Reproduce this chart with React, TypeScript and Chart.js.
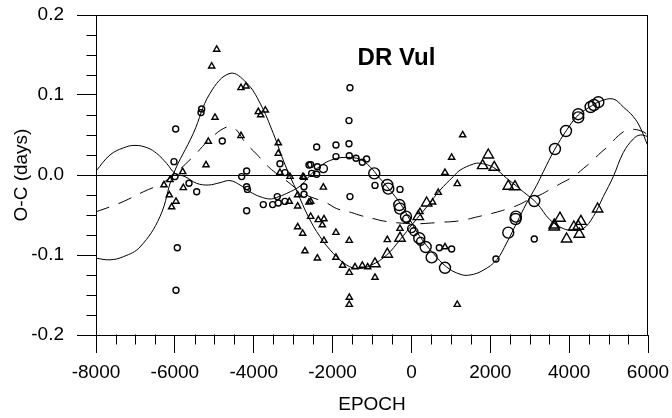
import React, { useEffect, useRef } from 'react';
import { Chart, registerables } from 'chart.js';

Chart.register(...registerables);

const X_MIN = -8000;
const X_MAX = 6000;
const Y_MIN = -0.2;
const Y_MAX = 0.2;
const X_MAJOR_STEP = 2000;
const X_MINOR_STEP = 500;
const Y_MAJOR_STEP = 0.1;
const Y_MINOR_STEP = 0.025;

const chartTitle = 'DR Vul';
const xAxisTitle = 'EPOCH';
const yAxisTitle = 'O-C (days)';

// Solid fit through the triangles
const fitTriEpoch = [-8000, -7645, -7300, -6884, -6377, -6047, -5532, -5109, -4601, -4179, -3841, -3503, -3207, -2900, -2616, -2320, -1982, -1643, -1348, -1009, -628, -290, 48, 386, 724, 1062, 1232, 1570, 1739, 2076, 2414, 2668, 2837, 3175, 3513, 3851, 4104, 4358, 4612, 4866, 5119, 5373, 5627, 5800, 6000];
const fitTriOC = [-0.104, -0.106, -0.102, -0.09, -0.052, 0.0, 0.052, 0.102, 0.127, 0.115, 0.09, 0.052, 0.013, -0.021, -0.052, -0.077, -0.098, -0.1125, -0.117, -0.1125, -0.1, -0.081, -0.06, -0.04, -0.019, -0.002, 0.006, 0.0137, 0.0146, 0.0096, -0.004, -0.014, -0.021, -0.035, -0.056, -0.067, -0.069, -0.067, -0.052, -0.027, -0.002, 0.028, 0.045, 0.05, 0.048];

// Solid fit through the circles
const fitCircEpoch = [-8000, -7645, -7300, -7011, -6700, -6461, -6200, -5996, -5743, -5447, -5151, -4855, -4601, -4348, -4094, -3841, -3587, -3418, -3164, -2827, -2600, -2320, -1982, -1643, -1305, -1051, -839, -544, -290, -37, 216, 555, 893, 1232, 1485, 1823, 2161, 2414, 2668, 2922, 3175, 3344, 3640, 3936, 4231, 4527, 4781, 5119, 5373, 5627, 5796, 6000];
const fitCircOC = [0.005, 0.025, 0.034, 0.037, 0.034, 0.027, 0.014, 0.002, -0.002, -0.0104, -0.0125, -0.0096, -0.007, -0.0125, -0.021, -0.027, -0.03, -0.028, -0.023, -0.014, -0.002, 0.011, 0.0196, 0.022, 0.0196, 0.0104, -0.002, -0.019, -0.035, -0.056, -0.077, -0.098, -0.115, -0.124, -0.125, -0.119, -0.106, -0.085, -0.06, -0.035, -0.013, 0.004, 0.0325, 0.056, 0.075, 0.085, 0.092, 0.095, 0.085, 0.073, 0.06, 0.036];

// Dashed curve
const dashEpoch = [-8000, -7391, -6800, -6250, -5575, -5109, -4686, -4475, -4221, -3925, -3672, -3503, -3200, -2742, -2150, -1896, -1516, -1262, -924, -713, -290, 100, 513, 767, 1105, 1359, 1697, 2120, 2456, 2710, 3048, 3260, 3556, 3810, 4104, 4358, 4570, 4824, 4993, 5246, 5458, 5650, 5881, 6000];
const dashOC = [-0.046, -0.035, -0.021, -0.008, 0.021, 0.045, 0.06, 0.058, 0.041, 0.026, 0.0125, 0.005, -0.006, -0.023, -0.035, -0.042, -0.047, -0.051, -0.055, -0.0575, -0.06, -0.061, -0.06, -0.059, -0.058, -0.056, -0.052, -0.047, -0.042, -0.0375, -0.029, -0.025, -0.017, -0.01, -0.002, 0.008, 0.017, 0.029, 0.036, 0.049, 0.056, 0.057, 0.054, 0.05];

// Observations: [epoch, O-C]
const smallCircles = [
  [-5979, 0.0575], [-5320, 0.0825], [-5337, 0.078], [-4797, 0.0425], [-6022, 0.0167], [-4179, 0.005], [-4305, -0.002],
  [-3334, 0.014], [-3207, 0.003], [-5996, -0.002], [-2598, 0.0125], [-5641, -0.0104], [-5447, -0.021], [-5938, -0.091],
  [-5971, -0.144], [-4179, -0.0146], [-4160, -0.018], [-4179, -0.0446], [-3757, -0.037], [-3520, -0.037], [-3377, -0.035],
  [-3207, -0.033], [-3402, -0.027], [-2725, -0.0146], [-2725, -0.024], [-1559, 0.109], [-1584, 0.068], [-2403, 0.035],
  [-1914, 0.0375], [-1584, 0.039], [-1914, 0.023], [-1576, 0.024], [-1406, 0.021], [-1246, 0.016], [-1136, 0.02],
  [-2555, 0.013], [-2386, 0.0104], [-2530, 0.002], [-2403, 0.001], [-924, -0.013], [-290, -0.018], [-1559, -0.027],
  [707, -0.091], [1020, -0.0925], [3116, -0.08], [2144, -0.105],
];
const mediumCircles = [
  [-2234, 0.008], [-121, -0.055], [6, -0.067], [65, -0.071], [234, -0.083],
];
const largeCircles = [
  [-942, 0.002], [-612, -0.0125], [-586, -0.017], [-308, -0.0375], [-290, -0.042], [-138, -0.052], [199, -0.079],
  [361, -0.09], [513, -0.103], [851, -0.116], [2456, -0.072], [2642, -0.055], [2650, -0.052], [3116, -0.0325],
  [3640, 0.0325], [3920, 0.055], [4231, 0.076], [4231, 0.072], [4545, 0.085], [4630, 0.0875], [4740, 0.091],
];
const smallTriangles = [
  [-4939, 0.157], [-5066, 0.136], [-4323, 0.109], [-4196, 0.111], [-3884, 0.079], [-3706, 0.081], [-3823, 0.075],
  [-4982, 0.072], [-5152, 0.042], [-4323, 0.049], [-3377, 0.04], [-3377, 0.027], [-5210, 0.0125], [-3334, 0.003],
  [-5801, 0.004], [-3080, -0.002], [-2750, -0.002], [-6276, -0.0125], [-6123, -0.006], [-6141, -0.025], [-5971, -0.033],
  [-6081, -0.04], [-5786, -0.016], [-2885, -0.025], [-2885, -0.039], [-3098, -0.033], [-2885, -0.065], [-2758, -0.073],
  [-2700, -0.095], [-2725, -0.003], [-2598, -0.034], [1020, 0.022], [851, 0.003], [-2234, -0.0154], [-2555, -0.033],
  [-2555, -0.052], [-2362, -0.056], [-2218, -0.055], [-2260, -0.0625], [-1914, -0.072], [-1576, -0.082], [-2218, -0.082],
  [-2386, -0.104], [-1914, -0.103], [-1745, -0.113], [-1576, -0.122], [-1432, -0.115], [-1246, -0.113], [-1110, -0.115],
  [-924, -0.128], [-612, -0.081], [-290, -0.067], [216, -0.046], [538, -0.034], [681, -0.022], [851, -0.09],
  [1163, -0.011], [-1576, -0.153], [-1576, -0.162], [1163, -0.162], [1300, 0.05],
];
const largeTriangles = [
  [-924, -0.111], [-612, -0.099], [-290, -0.079], [173, -0.052], [386, -0.035], [1950, 0.025], [1806, 0.0117],
  [2101, 0.0096], [2456, -0.014], [2626, -0.0146], [3767, -0.054], [3622, -0.0625], [3622, -0.065], [4120, -0.065],
  [4298, -0.058], [4231, -0.064], [3936, -0.08], [4257, -0.074], [4723, -0.0425],
];

const FONT = '"Liberation Sans", Arial, Helvetica, sans-serif';

const toXY = (xs: number[], ys: number[]) => xs.map((x, i) => ({ x, y: ys[i] }));
const pairsToXY = (arr: number[][]) => arr.map(([x, y]) => ({ x, y }));

const decorPlugin = {
  id: 'decor',
  afterDraw(chart: any) {
    const { ctx, chartArea: a, scales } = chart;
    const xs = scales.x;
    const ys = scales.y;
    ctx.save();
    ctx.strokeStyle = '#000';
    ctx.lineWidth = 1;
    ctx.beginPath();
    const top = Math.round(a.top) + 0.5;
    const right = Math.round(a.right) - 0.5;
    ctx.moveTo(a.left, top);
    ctx.lineTo(a.right, top);
    ctx.moveTo(right, a.top);
    ctx.lineTo(right, a.bottom);
    const bottom = Math.round(a.bottom) - 0.5;
    for (let v = X_MIN; v <= X_MAX + 1e-6; v += X_MINOR_STEP) {
      if (Math.abs(v % X_MAJOR_STEP) < 1e-6) continue;
      const px = Math.round(xs.getPixelForValue(v)) + 0.5;
      ctx.moveTo(px, bottom);
      ctx.lineTo(px, bottom + 10);
    }
    const left = Math.round(a.left) + 0.5;
    const nY = Math.round((Y_MAX - Y_MIN) / Y_MINOR_STEP);
    for (let i = 0; i <= nY; i++) {
      if (i % Math.round(Y_MAJOR_STEP / Y_MINOR_STEP) === 0) continue;
      const v = Y_MIN + i * Y_MINOR_STEP;
      const py = Math.round(ys.getPixelForValue(v)) + 0.5;
      ctx.moveTo(left - 10, py);
      ctx.lineTo(left, py);
    }
    ctx.stroke();
    ctx.fillStyle = '#000';
    ctx.font = `bold 24px ${FONT}`;
    ctx.textAlign = 'center';
    ctx.textBaseline = 'middle';
    ctx.fillText(chartTitle, xs.getPixelForValue(-380), ys.getPixelForValue(0.146));
    ctx.restore();
  },
};

export default function App() {
  const ref = useRef<HTMLCanvasElement | null>(null);

  useEffect(() => {
    if (!ref.current) return;
    const lineBase = {
      borderColor: '#000',
      borderWidth: 1,
      pointRadius: 0,
      tension: 0.4,
      fill: false,
      order: 2,
    };
    const pointBase = {
      showLine: false,
      borderColor: '#000',
      backgroundColor: 'rgba(0,0,0,0)',
      pointBorderColor: '#000',
      pointBackgroundColor: 'rgba(0,0,0,0)',
      pointBorderWidth: 1.4,
      order: 1,
    };
    const chart = new Chart(ref.current, {
      type: 'line',
      data: {
        datasets: [
          { ...lineBase, label: 'fit triangles', data: toXY(fitTriEpoch, fitTriOC) },
          { ...lineBase, label: 'fit circles', data: toXY(fitCircEpoch, fitCircOC) },
          { ...lineBase, label: 'dashed', data: toXY(dashEpoch, dashOC), borderDash: [14, 10] },
          { ...pointBase, label: 'small circles', data: pairsToXY(smallCircles), pointStyle: 'circle', pointRadius: 3 },
          { ...pointBase, label: 'medium circles', data: pairsToXY(mediumCircles), pointStyle: 'circle', pointRadius: 4 },
          { ...pointBase, label: 'large circles', data: pairsToXY(largeCircles), pointStyle: 'circle', pointRadius: 5.5 },
          { ...pointBase, label: 'small triangles', data: pairsToXY(smallTriangles), pointStyle: 'triangle', pointRadius: 3.6 },
          { ...pointBase, label: 'large triangles', data: pairsToXY(largeTriangles), pointStyle: 'triangle', pointRadius: 6 },
        ],
      },
      options: {
        responsive: false,
        maintainAspectRatio: false,
        devicePixelRatio: 1,
        animation: false,
        events: [],
        layout: { padding: { left: 0, right: 24, top: 15, bottom: 0 } },
        plugins: { legend: { display: false }, tooltip: { enabled: false }, title: { display: false } },
        scales: {
          x: {
            type: 'linear',
            min: X_MIN,
            max: X_MAX,
            afterFit: (s: any) => { s.height = 83; s.paddingLeft = 0; s.paddingRight = 0; s.paddingTop = 0; s.paddingBottom = 0; },
            border: { display: true, color: '#000', width: 1 },
            grid: { drawOnChartArea: false, drawTicks: true, tickLength: 18, tickColor: '#000', color: '#000' },
            ticks: {
              stepSize: X_MAJOR_STEP,
              autoSkip: false,
              maxRotation: 0,
              padding: 8,
              color: '#000',
              font: { family: FONT, size: 19 },
              callback: (v: any) => String(v),
            },
            title: { display: true, text: xAxisTitle, color: '#000', font: { family: FONT, size: 19 }, padding: { top: 0, bottom: 2 } },
          },
          y: {
            type: 'linear',
            min: Y_MIN,
            max: Y_MAX,
            afterFit: (s: any) => { s.width = 96; s.paddingLeft = 0; s.paddingRight = 0; s.paddingTop = 0; s.paddingBottom = 0; },
            border: { display: true, color: '#000', width: 1 },
            grid: {
              drawOnChartArea: true,
              drawTicks: true,
              tickLength: 19,
              tickColor: '#000',
              color: (c: any) => (c.tick && Math.abs(c.tick.value) < 1e-9 ? '#000' : 'rgba(0,0,0,0)'),
            },
            ticks: {
              stepSize: Y_MAJOR_STEP,
              padding: 13,
              color: '#000',
              font: { family: FONT, size: 19 },
              callback: (v: any) => Number(v).toFixed(1),
            },
            title: { display: true, text: yAxisTitle, color: '#000', font: { family: FONT, size: 19 }, padding: { top: 10, bottom: 0 } },
          },
        },
      },
      plugins: [decorPlugin],
    } as any);
    return () => chart.destroy();
  }, []);

  return (
    <div style={{ position: 'absolute', left: 0, top: 0, width: 672, height: 418, background: '#fff' }}>
      <canvas ref={ref} width={672} height={418} style={{ width: 672, height: 418, display: 'block' }} />
    </div>
  );
}
